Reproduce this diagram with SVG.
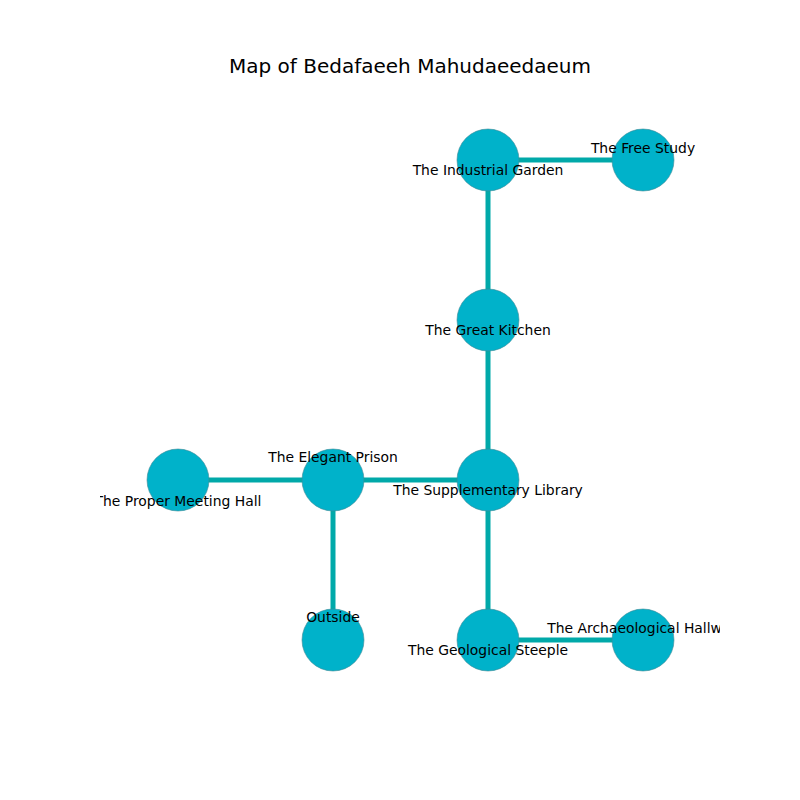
<svg xmlns="http://www.w3.org/2000/svg" width="800" height="800" viewBox="0 0 800 800">
<style>
.edge{stroke:#00a9a9;stroke-width:5;fill:none}
.node circle{fill:#00b2ca;stroke:#3f8a95;stroke-width:0.6}
.lbl{font-family:"DejaVu Sans",sans-serif;font-size:13.9px;fill:#000;text-anchor:middle}
.title{font-family:"DejaVu Sans",sans-serif;font-size:20px;fill:#000;text-anchor:middle}
</style>
<defs>
<clipPath id="ax"><rect x="100" y="88" width="620" height="616"/></clipPath>
</defs>
<rect width="800" height="800" fill="#fff"/>
<text class="title" x="410" y="73">Map of Bedafaeeh Mahudaeedaeum</text>
<g id="connectors" clip-path="url(#ax)">
<line class="edge" x1="488" y1="160" x2="643" y2="160"/>
<line class="edge" x1="488" y1="160" x2="488" y2="320"/>
<line class="edge" x1="488" y1="320" x2="488" y2="480"/>
<line class="edge" x1="333" y1="480" x2="488" y2="480"/>
<line class="edge" x1="178" y1="480" x2="333" y2="480"/>
<line class="edge" x1="333" y1="480" x2="333" y2="640"/>
<line class="edge" x1="488" y1="480" x2="488" y2="640"/>
<line class="edge" x1="488" y1="640" x2="643" y2="640"/>
</g>
<g clip-path="url(#ax)">
<g id="industrial-garden" class="node"><circle cx="488" cy="160" r="31"/></g>
<g id="free-study" class="node"><circle cx="643" cy="160" r="31"/></g>
<g id="great-kitchen" class="node"><circle cx="488" cy="320" r="31"/></g>
<g id="supplementary-library" class="node"><circle cx="488" cy="480" r="31"/></g>
<g id="elegant-prison" class="node"><circle cx="333" cy="480" r="31"/></g>
<g id="proper-meeting-hall" class="node"><circle cx="178" cy="480" r="31"/></g>
<g id="outside" class="node"><circle cx="333" cy="640" r="31"/></g>
<g id="geological-steeple" class="node"><circle cx="488" cy="640" r="31"/></g>
<g id="archaeological-hallway" class="node"><circle cx="643" cy="640" r="31"/></g>
</g>
<g id="labels" clip-path="url(#ax)">
<text class="lbl" x="488" y="175">The Industrial Garden</text>
<text class="lbl" x="643" y="153">The Free Study</text>
<text class="lbl" x="488" y="335">The Great Kitchen</text>
<text class="lbl" x="488" y="495">The Supplementary Library</text>
<text class="lbl" x="333" y="462">The Elegant Prison</text>
<text class="lbl" x="178" y="506">The Proper Meeting Hall</text>
<text class="lbl" x="333" y="622">Outside</text>
<text class="lbl" x="488" y="655">The Geological Steeple</text>
<text class="lbl" x="643" y="633">The Archaeological Hallway</text>
</g>
</svg>
